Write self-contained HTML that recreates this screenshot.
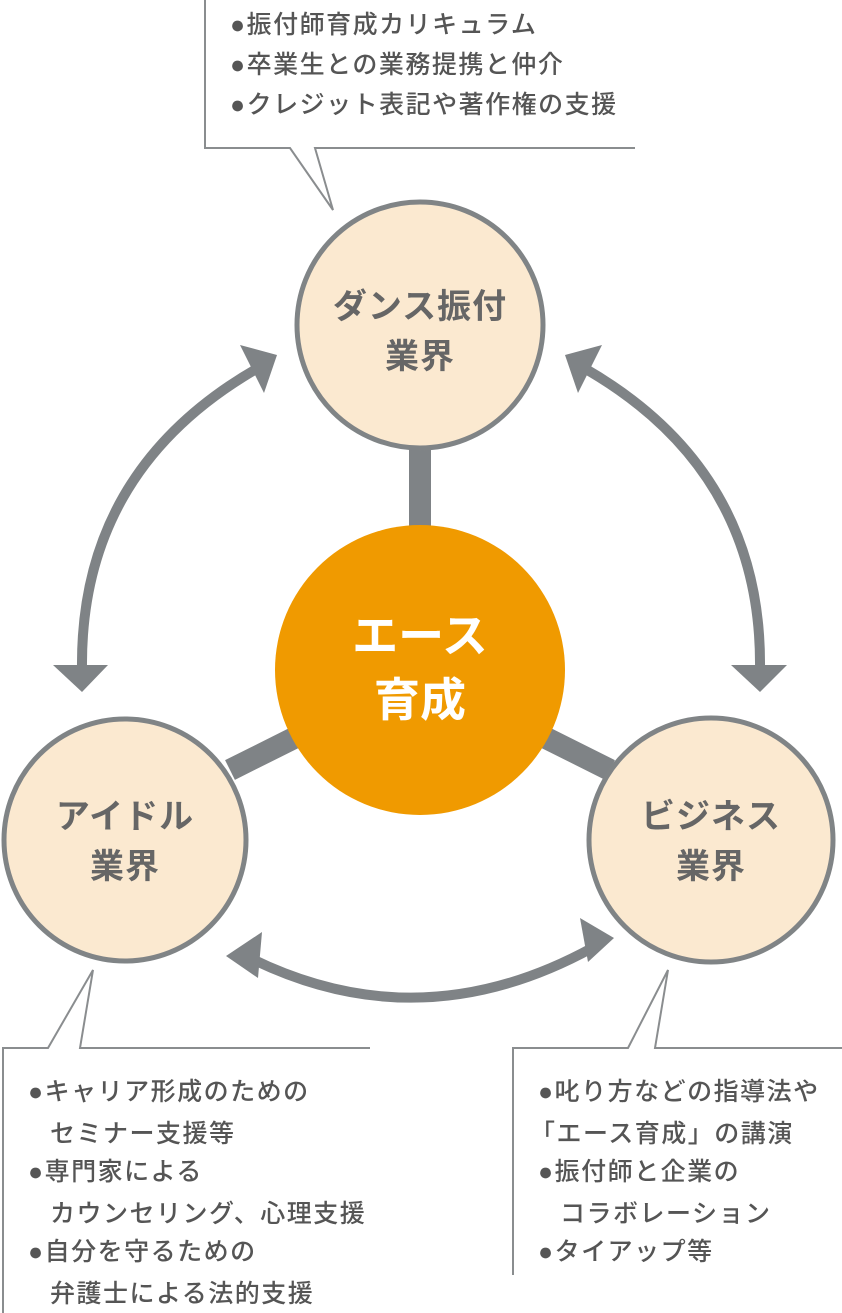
<!DOCTYPE html>
<html><head><meta charset="utf-8"><style>
body{margin:0;background:#fff;}
svg{display:block;}
.c{font-family:"Liberation Sans","Noto Sans CJK JP",sans-serif;}
</style></head><body>
<svg width="842" height="1313" viewBox="0 0 842 1313" xmlns="http://www.w3.org/2000/svg" class="c">
<g fill="none" stroke="#8a8d8f" stroke-width="2">
<path d="M205 0 V148 H290 L333 210 L315 148 H635"/>
<path d="M3 1313 V1048 H48 L93 970 L80 1048 H370"/>
<path d="M513 1275 V1048 H628 L668 970 L655 1048 H842"/>
</g>
<g stroke="#7f8386" stroke-width="22">
<line x1="420" y1="440" x2="420" y2="530"/>
<line x1="230" y1="770" x2="300" y2="735"/>
<line x1="610" y1="770" x2="540" y2="735"/>
</g>
<g fill="none" stroke="#7f8386" stroke-width="10">
<path d="M82 668 Q80 470 258 368"/>
<path d="M760 668 Q762 470 584 368"/>
<path d="M250 958 Q420 1042 592 948"/>
</g>
<g fill="#7f8386">
<polygon points="277,355 240,345 264,393"/>
<polygon points="82,692 53,665 108,665"/>
<polygon points="565,355 602,345 578,393"/>
<polygon points="760,692 731,665 787,665"/>
<polygon points="226,956 262,932 258,978"/>
<polygon points="614,938 580,918 588,962"/>
</g>
<g fill="#fbe9d0" stroke="#808486" stroke-width="5">
<circle cx="420" cy="325" r="123"/>
<circle cx="125" cy="840" r="121"/>
<circle cx="711" cy="840" r="122"/>
</g>
<circle cx="420" cy="670" r="145" fill="#f09a00"/>
<g fill="#666" font-size="34" text-anchor="middle" font-weight="bold" letter-spacing="1">
<text x="420" y="318">ダンス振付</text><text x="420" y="368">業界</text>
<text x="125" y="828">アイドル</text><text x="125" y="878">業界</text>
<text x="711" y="828">ビジネス</text><text x="711" y="878">業界</text>
</g>
<g fill="#fff" font-size="46" text-anchor="middle" font-weight="bold">
<text x="420" y="652">エース</text><text x="420" y="716">育成</text>
</g>
<g fill="#555" font-size="25" font-weight="500" letter-spacing="1.5">
<text x="230" y="33">●振付師育成カリキュラム</text>
<text x="230" y="73">●卒業生との業務提携と仲介</text>
<text x="230" y="113">●クレジット表記や著作権の支援</text>
<text x="28" y="1100">●キャリア形成のための</text>
<text x="50" y="1142">セミナー支援等</text>
<text x="28" y="1180">●専門家による</text>
<text x="50" y="1222">カウンセリング、心理支援</text>
<text x="28" y="1260">●自分を守るための</text>
<text x="50" y="1302">弁護士による法的支援</text>
<text x="538" y="1100">●叱り方などの指導法や</text>
<text x="530" y="1142">「エース育成」の講演</text>
<text x="538" y="1180">●振付師と企業の</text>
<text x="560" y="1222">コラボレーション</text>
<text x="538" y="1260">●タイアップ等</text>
</g>
</svg>
</body></html>
